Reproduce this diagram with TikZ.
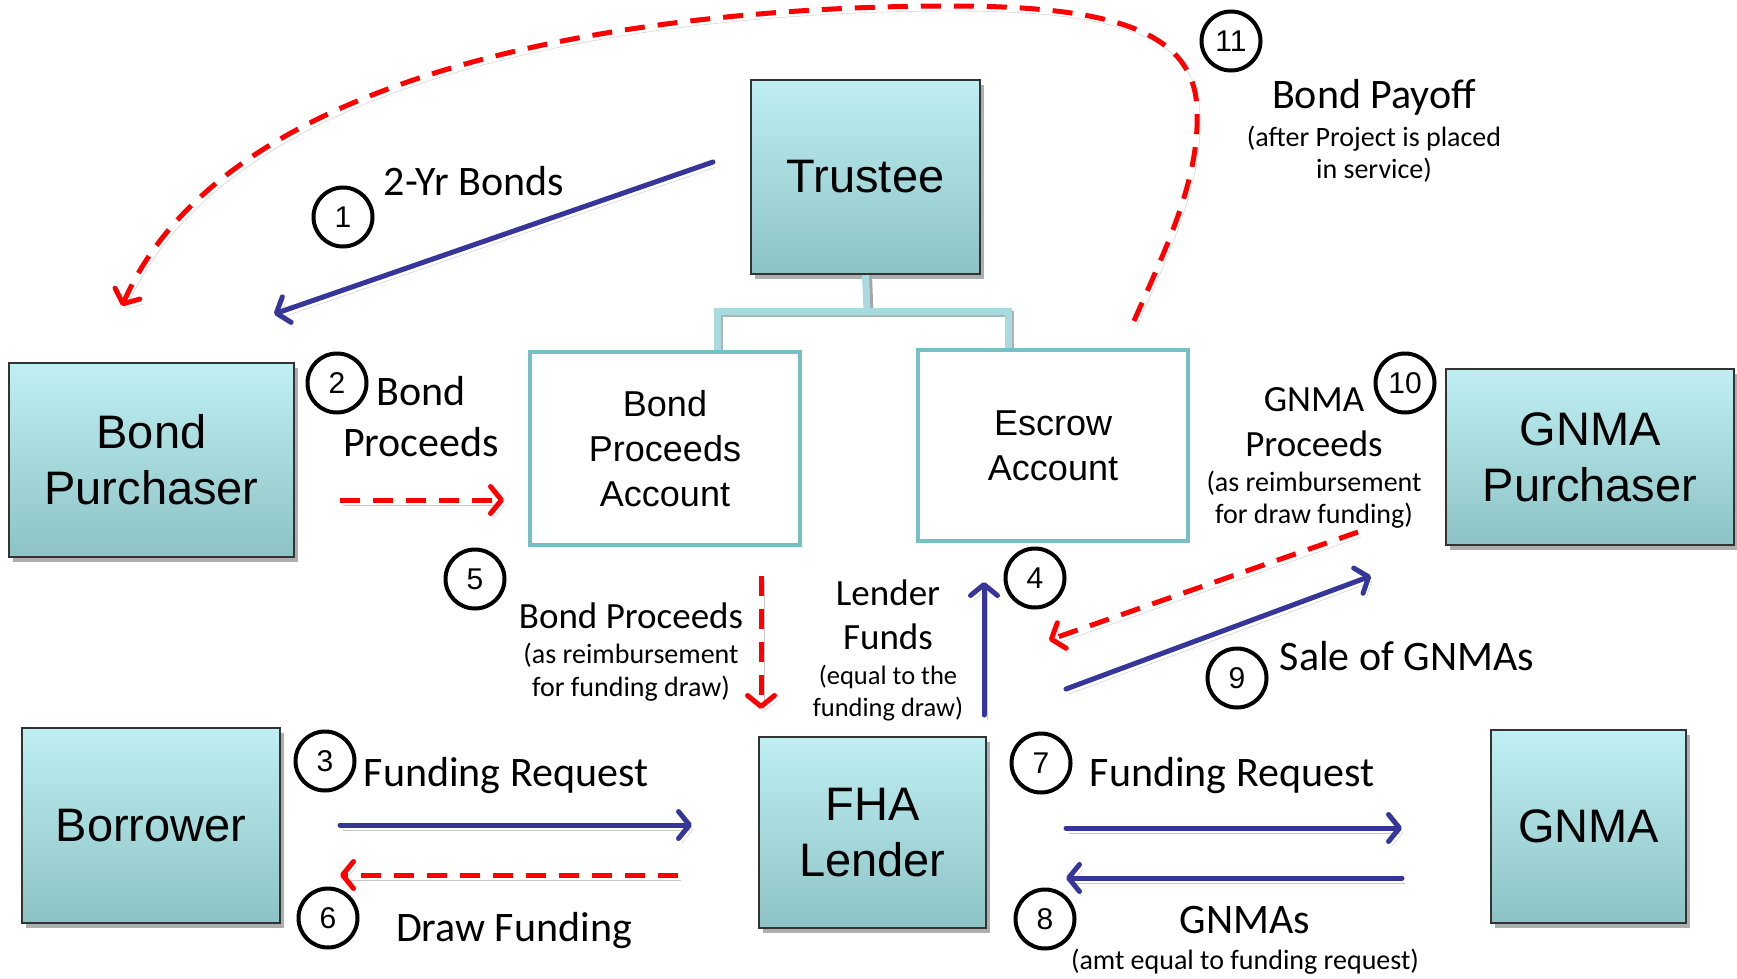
\documentclass[tikz,border=0pt]{standalone}
\usepackage{fontspec}
\setmainfont{Liberation Sans}
\newfontfamily\lbl{Carlito}
\usetikzlibrary{arrows.meta,shadows}
\definecolor{arrblue}{HTML}{35359A}
\definecolor{boxtop}{HTML}{BFEFF2}
\definecolor{boxbot}{HTML}{8DC3C6}
\definecolor{acct}{HTML}{76C0C5}
\definecolor{treec}{HTML}{A8DBDF}
\tikzset{
  ent/.style={draw=black!80, line width=2.5pt, top color=boxtop, bottom color=boxbot,
    align=center, font=\fontsize{47}{56}\selectfont, inner sep=0pt,
    drop shadow={opacity=0.45, shadow xshift=4pt, shadow yshift=-5pt, fill=black!70}},
  acc/.style={draw=acct, fill=white, line width=4pt, align=center,
    font=\fontsize{36}{45}\selectfont, inner sep=0pt},
  num/.style={circle, draw, line width=4pt, minimum size=59pt, inner sep=0pt,
    font=\fontsize{30}{32}\selectfont},
  big/.style={font=\lbl\fontsize{42}{51}\selectfont, align=center, inner sep=0pt},
  small/.style={font=\lbl\fontsize{28}{32}\selectfont, align=center, inner sep=0pt},
  barb/.style={-{Straight Barb[length=11pt,width=27pt,round]}},
  shad/.style={preaction={draw=black, opacity=0.22, transform canvas={xshift=3pt,yshift=-5pt}}},
  bl/.style={draw=arrblue, line width=5pt, line cap=round, barb, shad},
  rd/.style={draw=red, line width=5pt, dash pattern=on 20pt off 13pt, barb, shad},
  treeline/.style={draw=treec, line width=7pt},
}
\begin{document}
\begin{tikzpicture}[x=1pt,y=-1pt]
\useasboundingbox (0,0) rectangle (1737,979);
% entity boxes
\node[ent, minimum width=229pt, minimum height=194pt] (trustee) at (865.5,177) {Trustee};
\node[ent, minimum width=285pt, minimum height=194pt] (bp) at (151.5,460) {Bond\\Purchaser};
\node[ent, minimum width=288pt, minimum height=176pt] (gp) at (1590,457) {GNMA\\Purchaser};
\node[ent, minimum width=258pt, minimum height=195pt] (borrower) at (151,825.5) {Borrower};
\node[ent, minimum width=227pt, minimum height=191pt] (fha) at (872.5,832.5) {FHA\\Lender};
\node[ent, minimum width=195pt, minimum height=193pt] (gnma) at (1588.5,826.5) {GNMA};
% tree connector
\coordinate (tj) at (867,311);
\draw[draw=black!35, line width=7pt] ([xshift=3pt]trustee.south) -- ([xshift=3pt,yshift=-3pt]tj);
\draw[treeline] (trustee.south) -- (tj);
\draw[draw=black!30, line width=6pt] (720,352) -- (720,314) -- (1011,314) -- (1011,350);
\draw[treeline] (717,352) |- (tj) -| (1008,350);
% account boxes
\node[acc, minimum width=270pt, minimum height=193pt] (bpa) at (665,448.5) {Bond\\Proceeds\\Account};
\node[acc, minimum width=270pt, minimum height=191pt] (esc) at (1053,445.5) {Escrow\\Account};
% numbered circles
\node[num] (n1) at (343,217) {1};
\node[num] (n2) at (337,383) {2};
\node[num] (n3) at (325,761) {3};
\node[num] (n4) at (1035,578) {4};
\node[num] (n5) at (475,579) {5};
\node[num] (n6) at (328,918) {6};
\node[num] (n7) at (1041,763) {7};
\node[num] (n8) at (1045,919) {8};
\node[num] (n9) at (1237,678) {9};
\node[num] (n10) at (1405,383) {10};
\node[num] (n11) at (1231,41) {11};
% labels
\node[big] (l1) at (474,181) {2-Yr Bonds};
\node[big] (l2) at (421,417) {Bond\\Proceeds};
\node[big, font=\lbl\fontsize{37}{44}\selectfont] (l5) at (631,616) {Bond Proceeds};
\node[small, font=\lbl\fontsize{28}{33}\selectfont] (l5s) at (631,672) {(as reimbursement\\for funding draw)};
\node[big, font=\lbl\fontsize{37}{44}\selectfont] (l4) at (888,615) {Lender\\Funds};
\node[small, font=\lbl\fontsize{26.5}{32}\selectfont] (l4s) at (888,693) {(equal to the\\funding draw)};
\node[big] (l3) at (506,776) {Funding Request};
\node[big] (l6) at (514,931) {Draw Funding};
\node[big] (l7) at (1232,776) {Funding Request};
\node[big] (l8) at (1245,920) {GNMAs};
\node[small] (l8s) at (1245,962) {(amt equal to funding request)};
\node[big] (l9) at (1407,656) {Sale of GNMAs};
\node[big, font=\lbl\fontsize{37}{45}\selectfont] (l10) at (1314,422) {GNMA\\Proceeds};
\node[small] (l10s) at (1314,500) {(as reimbursement\\for draw funding)};
\node[big] (l11) at (1374,97) {Bond Payoff};
\node[small] (l11s) at (1374,154) {(after Project is placed\\in service)};
% arrow end points
\coordinate (a1s) at (713,162);  \coordinate (a1e) at (274,314);
\coordinate (a2s) at (340,500);  \coordinate (a2e) at (504,500);
\coordinate (a3s) at (340,825);  \coordinate (a3e) at (692,825);
\coordinate (a4s) at (984,715);  \coordinate (a4e) at (984,582);
\coordinate (a5s) at (761,576);  \coordinate (a5e) at (761,709);
\coordinate (a6s) at (678,875);  \coordinate (a6e) at (340,875);
\coordinate (a7s) at (1066,828); \coordinate (a7e) at (1402,828);
\coordinate (a8s) at (1402,878); \coordinate (a8e) at (1066,878);
\coordinate (a9s) at (1066,689); \coordinate (a9e) at (1371,576);
\coordinate (a10s) at (1358,532); \coordinate (a10e) at (1049,640);
\coordinate (a11s) at (1134,321); \coordinate (a11e) at (122,306);
% arrows
\draw[bl] (a1s) -- (a1e);
\draw[rd] (a2s) -- (a2e);
\draw[bl] (a3s) -- (a3e);
\draw[bl] (a4s) -- (a4e);
\draw[rd] (a5s) -- (a5e);
\draw[rd] (a6s) -- (a6e);
\draw[bl] (a7s) -- (a7e);
\draw[bl] (a8s) -- (a8e);
\draw[bl] (a9s) -- (a9e);
\draw[rd] (a10s) -- (a10e);
\draw[rd] (a11s) .. controls (1165,250) and (1200,180) .. (1197,110)
  .. controls (1195,30) and (1110,6) .. (950,6)
  .. controls (700,6) and (235,48) .. (a11e);
\end{tikzpicture}
\end{document}
